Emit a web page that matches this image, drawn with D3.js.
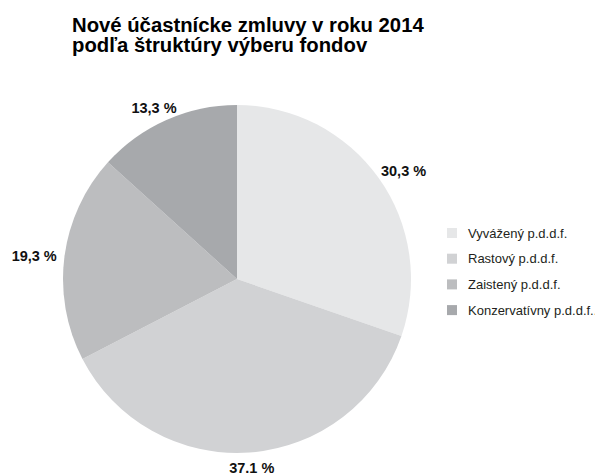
<!DOCTYPE html>
<html>
<head>
<meta charset="utf-8">
<script src="https://d3js.org/d3.v7.min.js"></script>
<style>
	body { margin: 0; background: #fff; }
	svg { display: block; font-family: "Liberation Sans", Arial, sans-serif; }
</style>
</head>
<body>
<script>
	// data
	var titleLines = ["Nové účastnícke zmluvy v roku 2014", "podľa štruktúry výberu fondov"];
	var categories = ["Vyvážený p.d.d.f.", "Rastový p.d.d.f.", "Zaistený p.d.d.f.", "Konzervatívny p.d.d.f.."];
	var values = [30.3, 37.1, 19.3, 13.3];
	var labels = ["30,3 %", "37.1 %", "19,3 %", "13,3 %"];
	var colors = ["#e6e7e8", "#d1d2d4", "#bcbdbf", "#a7a9ac"];

	var width = 595, height = 473;
	var cx = 237, cy = 279, r = 174;

	var svg = d3.select("body").append("svg")
		.attr("width", width)
		.attr("height", height);

	svg.append("g").selectAll("text")
		.data(titleLines)
		.enter().append("text")
		.attr("x", 72)
		.attr("y", function(d, i) { return 32 + i * 20; })
		.attr("font-size", "20.3px")
		.attr("font-weight", "bold")
		.attr("fill", "#000")
		.text(function(d) { return d; });

	var pie = d3.pie().sort(null).value(function(d) { return d; });
	var arc = d3.arc().innerRadius(0).outerRadius(r);
	var arcs = pie(values);

	var g = svg.append("g").attr("transform", "translate(" + cx + "," + cy + ")");

	g.selectAll("path")
		.data(arcs)
		.enter().append("path")
		.attr("d", arc)
		.attr("fill", function(d, i) { return colors[i]; });

	// labels outside the pie, pushed out by half their size
	var gap = 8, lw = 45, lh = 12;
	g.selectAll("text.lbl")
		.data(arcs)
		.enter().append("text")
		.attr("class", "lbl")
		.attr("text-anchor", "middle")
		.attr("font-size", "14.5px")
		.attr("font-weight", "bold")
		.attr("fill", "#111")
		.attr("x", function(d) {
			var a = (d.startAngle + d.endAngle) / 2;
			return Math.sin(a) * (r + gap) + Math.sin(a) * lw / 2;
		})
		.attr("y", function(d) {
			var a = (d.startAngle + d.endAngle) / 2;
			return -Math.cos(a) * (r + gap) - Math.cos(a) * lh / 2 + 6;
		})
		.text(function(d, i) { return labels[i]; });

	var legend = svg.append("g").attr("transform", "translate(447,228)");
	var item = legend.selectAll("g")
		.data(categories)
		.enter().append("g")
		.attr("transform", function(d, i) { return "translate(0," + (i * 25.7) + ")"; });
	item.append("rect")
		.attr("width", 10).attr("height", 10)
		.attr("fill", function(d, i) { return colors[i]; });
	item.append("text")
		.attr("x", 21).attr("y", 9.5)
		.attr("font-size", "13px")
		.attr("fill", "#231f20")
		.text(function(d) { return d; });
</script>
</body>
</html>
